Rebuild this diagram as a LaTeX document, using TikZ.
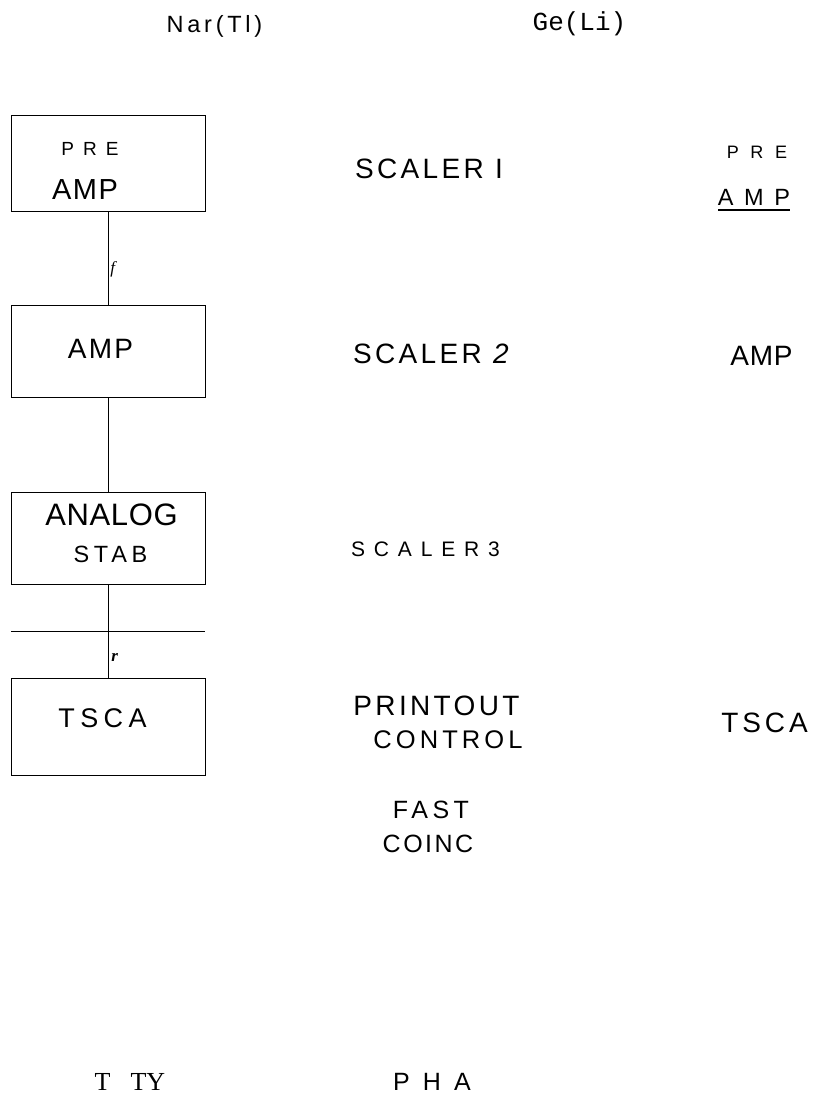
\documentclass[tikz,border=0pt]{standalone}
\usepackage{fontspec}
\setmainfont{Liberation Sans}
\newfontfamily\typew{Liberation Mono}
\newfontfamily\romn{Liberation Serif}
% sans text at size #1 (pt) with letter spacing #2
\newcommand{\lsf}[2]{\fontsize{#1}{#1}\selectfont\addfontfeature{LetterSpace=#2}}
\begin{document}
\begin{tikzpicture}[x=1pt,y=-1pt,
  blk/.style={draw,line width=0.8pt,minimum width=194pt,inner sep=0pt},
  txt/.style={inner sep=0pt,anchor=base},
  wire/.style={line width=0.8pt}]
\useasboundingbox (0,0) rectangle (816,1101);

% detector headings
\node[txt,font=\lsf{23.5}{16}] (nai) at (214.5,32) {Nar(Tl)};
\node[txt,font=\fontsize{26}{26}\selectfont\typew] (ge) at (579.5,30) {Ge(Li)};

% left chain of boxes
\node[blk,minimum height=96pt] (pre) at (108,163) {};
\node[blk,minimum height=92pt] (amp) at (108,351) {};
\node[blk,minimum height=92pt] (stab) at (108,538) {};
\node[blk,minimum height=97pt] (tsca) at (108,726.5) {};

\node[txt,font=\lsf{19}{48}] at (90,155) {PRE};
\node[txt,font=\lsf{29}{5}] at (85,199) {AMP};
\node[txt,font=\lsf{28}{8}] at (100.5,358) {AMP};
\node[txt,font=\lsf{31}{2}] at (111.5,525) {ANALOG};
\node[txt,font=\lsf{23.5}{20}] at (110.5,562) {STAB};
\node[txt,font=\lsf{27}{20}] at (102.5,727) {TSCA};

\draw[wire] (pre) -- node[right,pos=0.62,inner sep=2pt,font=\fontsize{17}{17}\selectfont\romn] (f) {\textit{f}} (amp);
\draw[wire] (amp) -- (stab);
\draw[wire] (stab) -- node[right,pos=0.78,inner sep=3pt,font=\fontsize{17}{17}\selectfont\romn] (r) {\textbf{\textit{r}}} (tsca);

\coordinate (cutl) at (11,631);
\coordinate (cutr) at (205,631);
\draw[wire] (cutl) -- (cutr);

% middle column
\node[txt,font=\lsf{28}{12}] (sc1) at (429,178) {SCALER I};
\node[txt,font=\lsf{28}{12}] (sc2) at (432.5,363) {SCALER \textit{2}};
\node[txt,font=\lsf{21}{42}] (sc3) at (425.5,556) {SCALER3};
\node[txt,font=\lsf{28}{12}] (prn) at (436.5,715) {PRINTOUT};
\node[txt,font=\lsf{25.5}{16}] (ctl) at (448,748) {CONTROL};
\node[txt,font=\lsf{25}{18}] (fast) at (431,818) {FAST};
\node[txt,font=\lsf{25}{10}] (coinc) at (428,852) {COINC};
\node[txt,font=\lsf{25}{25}] (pha) at (432,1090) {P H A};

% right column
\node[txt,font=\lsf{18}{64}] (rpre) at (757,158) {PRE};
\node[txt,font=\lsf{23.5}{45}] (ramp) at (754,205) {AMP};
\coordinate (ula) at (718,210);
\coordinate (ulb) at (790,210);
\draw[line width=2pt] (ula) -- (ulb);
\node[txt,font=\lsf{28}{3}] (ramp2) at (761.5,365) {AMP};
\node[txt,font=\lsf{28}{14}] (rtsca) at (764.5,732) {TSCA};

% bottom left
\node[txt,font=\fontsize{26}{26}\selectfont\romn] (tty) at (130,1090) {T\hspace{20pt}TY};
\end{tikzpicture}
\end{document}
